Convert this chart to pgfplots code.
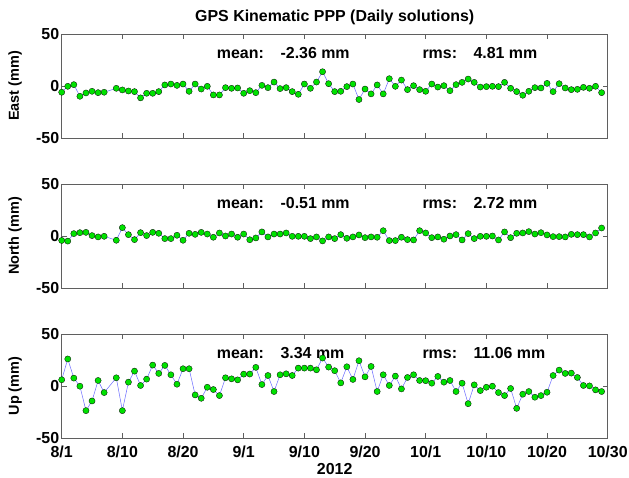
\documentclass[border=0pt]{standalone}
\usepackage{pgfplots}
\pgfplotsset{compat=1.18}
\usepackage{pgfplotstable}
\usepackage{fontspec}
\setmainfont{Liberation Sans}

\definecolor{ptgreen}{RGB}{0,225,0}
\definecolor{lnblue}{RGB}{105,105,255}
\definecolor{framegray}{RGB}{95,95,95}

% day (0 = 8/1), value in mm
\pgfplotstableread{
d v
0 -6.0
1 -0.3
2 1.3
3 -9.9
4 -6.7
5 -5.1
6 -6.4
7 -6.0
9 -2.2
10 -3.8
11 -4.8
12 -5.4
13 -11.4
14 -7.0
15 -7.0
16 -5.4
17 1.0
18 1.9
19 0.6
20 1.9
21 -5.1
22 1.9
23 -2.9
24 -0.3
25 -8.6
26 -8.6
27 -1.6
28 -2.2
29 -1.9
30 -7.0
31 -4.5
32 -6.4
33 0.6
34 -1.6
35 3.8
36 -2.5
37 -1.6
38 -5.4
39 -8.0
40 1.9
41 -2.2
42 3.8
43 13.7
44 2.2
45 -5.4
46 -5.1
47 -0.6
48 1.9
49 -13.0
50 -2.9
51 -7.6
52 1.0
53 -7.6
54 7.0
55 -0.3
56 5.7
57 -3.5
58 0.3
59 -3.5
60 -5.1
61 1.9
62 -1.0
63 0.3
64 -4.5
65 1.3
66 3.5
67 6.7
68 3.5
69 -1.0
70 -0.6
71 -0.3
72 -0.6
73 3.5
74 -2.2
75 -5.4
76 -8.9
77 -5.1
78 -1.6
79 -1.9
80 2.5
81 -5.4
82 2.2
83 -1.9
84 -3.5
85 -3.2
86 -1.3
87 -2.2
88 -0.3
89 -6.4
}\east

\pgfplotstableread{
d v
0 -4.3
1 -4.9
2 2.3
3 3.2
4 3.5
5 0.4
6 -0.9
7 -0.3
9 -4.1
10 8.0
11 1.3
12 -3.5
13 3.2
14 0.4
15 3.5
16 2.6
17 -2.5
18 -2.5
19 0.7
20 -4.1
21 2.6
22 1.6
23 3.5
24 1.9
25 -1.2
26 2.9
27 0.0
28 1.9
29 -1.2
30 1.9
31 -3.6
32 -1.9
33 3.9
34 -0.9
35 1.9
36 1.9
37 2.9
38 -0.3
39 -0.3
40 -0.3
41 -2.5
42 -0.9
43 -4.7
44 -0.9
45 -2.5
46 1.3
47 -2.2
48 -0.9
49 1.0
50 -1.6
51 -0.9
52 -1.2
53 5.1
54 -4.4
55 -4.4
56 -1.2
57 -3.5
58 -3.8
59 5.1
60 2.9
61 -1.6
62 -0.9
63 -3.1
64 0.0
65 1.3
66 -3.8
67 2.3
68 -2.5
69 -0.3
70 -0.3
71 0.0
72 -3.8
73 3.9
74 -1.6
75 2.6
76 2.9
77 4.2
78 1.9
79 3.2
80 1.0
81 -0.6
82 -0.6
83 -0.9
84 1.6
85 1.3
86 1.3
87 -0.9
88 2.9
89 7.7
}\north

\pgfplotstableread{
d v
0 6.0
1 26.0
2 7.6
3 -0.2
4 -23.7
5 -14.4
6 5.3
7 -6.3
9 7.9
10 -23.7
11 3.7
12 14.3
13 0.5
14 6.6
15 20.1
16 12.1
17 19.8
18 10.8
19 1.7
20 16.6
21 16.6
22 -8.6
23 -11.8
24 -1.2
25 -3.4
26 -9.2
27 7.9
28 6.9
29 5.9
30 11.4
31 11.5
32 17.9
33 1.4
34 10.1
35 -5.3
36 10.8
37 11.7
38 10.1
39 17.2
40 17.2
41 17.2
42 15.6
43 26.9
44 18.2
45 14.7
46 3.0
47 18.5
48 6.3
49 24.3
50 8.8
51 18.8
52 -5.3
53 10.8
54 0.5
55 9.5
56 -2.8
57 8.2
58 10.8
59 5.3
60 5.1
61 2.7
62 9.2
63 3.7
64 5.3
65 -5.3
66 2.7
67 -17.0
68 1.1
69 -4.4
70 -1.2
71 -0.2
72 -6.3
73 -9.2
74 -2.4
75 -21.5
76 -7.9
77 -5.3
78 -10.8
79 -9.2
80 -6.0
81 10.1
82 15.3
83 12.1
84 12.4
85 8.2
86 0.5
87 0.1
88 -3.7
89 -5.3
}\up

\pgfplotsset{
  panel/.style={
    scale only axis, width=546bp, height=104bp,
    anchor=north west,
    xmin=0, xmax=90, ymin=-50, ymax=50,
    xtick={0,10,...,90}, ytick={-50,0,50},
    xtick pos=both, ytick pos=both,
    tick align=inside, major tick length=5bp,
    axis line style={framegray, line width=0.6pt},
    tick style={framegray, line width=0.6pt},
    /pgf/number format/assume math mode=true,
    ticklabel style={font=\fontsize{16}{16}\selectfont\bfseries},
    yticklabel style={xshift=1bp},
    every axis y label/.style={at={(axis description cs:-0.0855,0.5)},
      rotate=90, anchor=center, font=\fontsize{14.5}{14.5}\selectfont\bfseries},
    clip=false,
  },
  series/.style={lnblue, line width=0.5pt, mark=*, mark size=3.1bp,
    mark options={fill=ptgreen, draw=black, line width=0.3pt}},
}

\newcommand{\stats}[2]{%
  \node[anchor=base west, font=\fontsize{16}{16}\selectfont\bfseries] at (axis cs:25,26) {mean:};
  \node[anchor=base west, font=\fontsize{16}{16}\selectfont\bfseries] at (axis cs:35.5,26) {#1 mm};
  \node[anchor=base west, font=\fontsize{16}{16}\selectfont\bfseries] at (axis cs:58.9,26) {rms:};
  \node[anchor=base west, font=\fontsize{16}{16}\selectfont\bfseries] at (axis cs:67.3,26) {#2 mm};
}

\begin{document}
\begin{tikzpicture}
\begin{axis}[panel, at={(0,0)}, xticklabel=\mbox{}, ylabel={East (mm)},
  title={GPS Kinematic PPP (Daily solutions)},
  title style={at={(axis description cs:0.5,1)}, anchor=center, yshift=11bp,
    font=\fontsize{16}{16}\selectfont\bfseries}]
\addplot[series] table[x=d, y=v] {\east};
\stats{-2.36}{4.81}
\end{axis}

\begin{axis}[panel, at={(0,-150bp)}, xticklabel=\mbox{}, ylabel={North (mm)}]
\addplot[series] table[x=d, y=v] {\north};
\stats{-0.51}{2.72}
\end{axis}

\begin{axis}[panel, at={(0,-300bp)}, ylabel={Up (mm)},
  xticklabels={8/1,8/10,8/20,9/1,9/10,9/20,10/1,10/10,10/20,10/30},
  xticklabel style={yshift=-4bp},
  xlabel={2012},
  xlabel style={font=\fontsize{16}{16}\selectfont\bfseries, yshift=1bp}]
\addplot[series] table[x=d, y=v] {\up};
\stats{3.34}{11.06}
\end{axis}

\pgfresetboundingbox
\path[use as bounding box] (-61.7bp,34bp) rectangle (567.3bp,-444bp);
\end{tikzpicture}
\end{document}
